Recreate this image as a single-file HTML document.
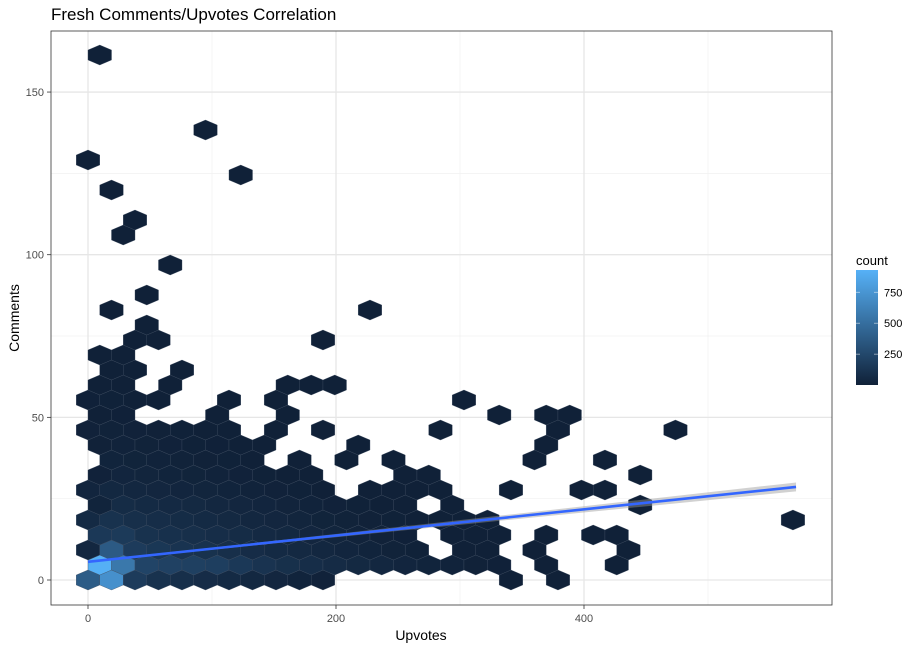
<!DOCTYPE html>
<html><head><meta charset="utf-8"><title>Fresh Comments/Upvotes Correlation</title>
<style>
html,body{margin:0;padding:0;background:#fff;}
svg{display:block;font-family:"Liberation Sans",Arial,sans-serif;}
</style></head>
<body>
<svg id="chart" width="919" height="650" viewBox="0 0 919 650" xmlns="http://www.w3.org/2000/svg">
  <text x="51" y="20" font-size="17" fill="#000">Fresh Comments/Upvotes Correlation</text>
  <g id="grid"></g>
  <g id="hexes"></g>
  <g id="fit"></g>
  <rect x="51" y="31" width="781" height="574" fill="none" stroke="#333" stroke-width="0.8"/>
  <g id="axes"></g>
  <text x="421" y="640" font-size="14" text-anchor="middle" fill="#000">Upvotes</text>
  <text x="19" y="318" font-size="14" text-anchor="middle" fill="#000" transform="rotate(-90 19 318)">Comments</text>
  <g id="legend"></g>
</svg>
<script>
// ---- data ----
const xTicks = [0, 200, 400];
const xMinor = [100, 300, 500];
const yTicks = [0, 50, 100, 150];
const yMinor = [25, 75, 125];
const legendTicks = [250, 500, 750];
const binWidthUpvotes = 18.95;   // hex bin width (data units)
const binHeightComments = 4.611; // hex row spacing (data units)
// columns of occupied bins per row index (row 0 = bottom)
const rowIndex = [0,1,2,3,4,5,6,7,8,9,10,11,12,13,14,15,16,17,18,19,21,23,24,26,27,28,30,35];
const rowCols = [
 [0,1,2,3,4,5,6,7,8,9,10,18,20],
 [0,1,2,3,4,5,6,7,8,9,10,11,12,13,14,15,16,17,19,22],
 [0,1,2,3,4,5,6,7,8,9,10,11,12,13,14,16,17,19,23],
 [0,1,2,3,4,5,6,7,8,9,10,11,12,13,15,16,17,19,21,22],
 [0,1,2,3,4,5,6,7,8,9,10,11,12,13,14,15,16,17,30],
 [0,1,2,3,4,5,6,7,8,9,10,11,12,13,15,23],
 [0,1,2,3,4,5,6,7,8,9,10,12,13,14,15,18,21,22],
 [0,1,2,3,4,5,6,7,8,9,13,14,23],
 [1,2,3,4,5,6,7,9,11,13,19,22],
 [0,1,2,3,4,5,6,7,11,19],
 [0,1,2,3,4,5,6,8,10,15,20,25],
 [0,1,5,8,17,19,20],
 [0,1,2,3,6,8,16],
 [0,1,3,8,9,10],
 [1,2,4],
 [0,1],
 [2,3,10],
 [2],
 [1,12],
 [2],
 [3],
 [1],
 [2],
 [1],
 [6],
 [0],
 [5],
 [0]
];
const rowCounts = [
 [380,720,170,110,90,75,60,45,35,20,10,1,1],
 [922,560,230,210,200,190,150,120,95,80,65,50,40,30,20,15,8,4,2,1],
 [40,370,170,140,120,110,90,75,60,50,40,30,20,12,6,3,2,1,1],
 [150,160,110,100,90,80,70,55,45,35,25,15,8,4,2,2,1,1,1,1],
 [60,110,90,80,70,60,50,40,35,25,18,12,8,5,3,2,2,1,1],
 [20,70,60,55,50,40,35,30,22,15,10,6,3,2,1,1],
 [30,45,40,35,30,25,20,15,10,6,3,1,1,1,1,1,1,1],
 [10,30,25,20,18,15,10,6,3,2,1,1,1],
 [20,18,15,12,8,5,3,1,1,1,1,1],
 [8,15,12,10,6,4,2,1,1,1],
 [10,12,10,8,5,3,2,1,1,1,1,1],
 [3,4,2,2,1,1,1],
 [4,5,3,2,1,1,1],
 [2,3,1,1,1,1],
 [2,2,1],
 [2,2],
 [1,2,1],
 [1],
 [1,1],
 [1],
 [1],
 [1],
 [1],
 [1],
 [1],
 [1],
 [1],
 [1]
];
const fitIntercept = 5.6;
const fitSlope = 0.0403;
const fitRange = [0, 571];
const countRange = [1, 930];

// ---- scales ----
const X0 = 88, XS = 1.24;
const Y0 = 580, YS = 3.253;
function sx(u){ return X0 + u*XS; }
function sy(c){ return Y0 - c*YS; }
const NS = 'http://www.w3.org/2000/svg';
function mk(tag, attrs, parent){
  const e = document.createElementNS(NS, tag);
  for (const k in attrs) e.setAttribute(k, attrs[k]);
  parent.appendChild(e);
  return e;
}
const lowC = [16,33,56], highC = [86,177,247];
function colorFor(v){
  let t = (v - countRange[0])/(countRange[1]-countRange[0]);
  t = Math.max(0, Math.min(1, t));
  const c = lowC.map((l,i)=>Math.round(l + (highC[i]-l)*t));
  return 'rgb('+c.join(',')+')';
}

// ---- grid ----
const grid = document.getElementById('grid');
xMinor.forEach(v=>{
  const l = mk('line',{x1:sx(v),x2:sx(v),y1:31,y2:605,stroke:'#f1f1f1','stroke-width':0.7},grid);
  
  
});
yMinor.forEach(v=>{
  const l = mk('line',{x1:51,x2:832,y1:sy(v),y2:sy(v),stroke:'#f1f1f1','stroke-width':0.7},grid);
  
  
});
xTicks.forEach(v=>{
  const l = mk('line',{x1:sx(v),x2:sx(v),y1:31,y2:605,stroke:'#e6e6e6','stroke-width':1.3},grid);
  
  
});
yTicks.forEach(v=>{
  const l = mk('line',{x1:51,x2:832,y1:sy(v),y2:sy(v),stroke:'#e6e6e6','stroke-width':1.3},grid);
  
  
});

// ---- hexes ----
const hexG = document.getElementById('hexes');
const hw = binWidthUpvotes*XS/2, hh = binHeightComments*YS*2/3;
rowIndex.forEach((r, ri)=>{
  rowCols[ri].forEach((c, ci)=>{
    const u = c*binWidthUpvotes + (r%2 ? binWidthUpvotes/2 : 0);
    const cm = r*binHeightComments;
    const cx = sx(u), cy = sy(cm);
    const pts = [[0,-hh],[hw,-hh/2],[hw,hh/2],[0,hh],[-hw,hh/2],[-hw,-hh/2]]
      .map(p=>(cx+p[0]).toFixed(2)+','+(cy+p[1]).toFixed(2)).join(' ');
    const p = mk('polygon',{points:pts,fill:colorFor(rowCounts[ri][ci]),stroke:'#3c4a5e','stroke-width':0.35},hexG);
    
    
  });
});

// ---- fit line + band ----
const fitG = document.getElementById('fit');
const xbar = 40, s0 = 0.3, k = 6.4e-6;
const upper = [], lower = [];
for (let i=0;i<=40;i++){
  const u = fitRange[0] + (fitRange[1]-fitRange[0])*i/40;
  const m = fitIntercept + fitSlope*u;
  const se = Math.sqrt(s0*s0 + k*(u-xbar)*(u-xbar));
  upper.push(sx(u).toFixed(2)+','+sy(m+se).toFixed(2));
  lower.unshift(sx(u).toFixed(2)+','+sy(m-se).toFixed(2));
}
const band = mk('polygon',{points:upper.concat(lower).join(' '),fill:'#999','fill-opacity':0.45},fitG);


const fl = mk('line',{x1:sx(fitRange[0]),y1:sy(fitIntercept+fitSlope*fitRange[0]),x2:sx(fitRange[1]),y2:sy(fitIntercept+fitSlope*fitRange[1]),stroke:'#3366FF','stroke-width':2.6},fitG);



// ---- axes ----
const ax = document.getElementById('axes');
xTicks.forEach(v=>{
  const t = mk('line',{x1:sx(v),x2:sx(v),y1:605,y2:609,stroke:'#333','stroke-width':0.8},ax);
  
  
  const lb = mk('text',{x:sx(v),y:622,'font-size':11,'text-anchor':'middle',fill:'#4d4d4d'},ax);
  lb.textContent = v;
  
  
});
yTicks.forEach(v=>{
  const t = mk('line',{x1:47,x2:51,y1:sy(v),y2:sy(v),stroke:'#333','stroke-width':0.8},ax);
  
  
  const lb = mk('text',{x:44,y:sy(v)+4,'font-size':11,'text-anchor':'end',fill:'#4d4d4d'},ax);
  lb.textContent = v;
  
  
});

// ---- legend ----
const lg = document.getElementById('legend');
const defs = mk('defs',{},lg);
const grad = mk('linearGradient',{id:'cg',x1:0,y1:1,x2:0,y2:0},defs);
mk('stop',{offset:0,'stop-color':colorFor(countRange[0])},grad);
mk('stop',{offset:1,'stop-color':colorFor(countRange[1])},grad);
const lt = mk('text',{x:856,y:265,'font-size':13,fill:'#000'},lg);
lt.textContent = 'count';


const barTop = 270, barBot = 385;
const bar = mk('rect',{x:856,y:barTop,width:22,height:barBot-barTop,fill:'url(#cg)'},lg);


function ly(v){ return barBot - (v-countRange[0])/(countRange[1]-countRange[0])*(barBot-barTop); }
legendTicks.forEach(v=>{
  const y = ly(v);
  const a = mk('line',{x1:856,x2:860,y1:y,y2:y,stroke:'#fff','stroke-opacity':0.6,'stroke-width':0.8},lg);
  
  
  const b = mk('line',{x1:874,x2:878,y1:y,y2:y,stroke:'#fff','stroke-opacity':0.6,'stroke-width':0.8},lg);
  
  
  const t = mk('text',{x:884,y:y+4,'font-size':11,fill:'#000'},lg);
  t.textContent = v;
  
  
});
</script>
</body></html>
